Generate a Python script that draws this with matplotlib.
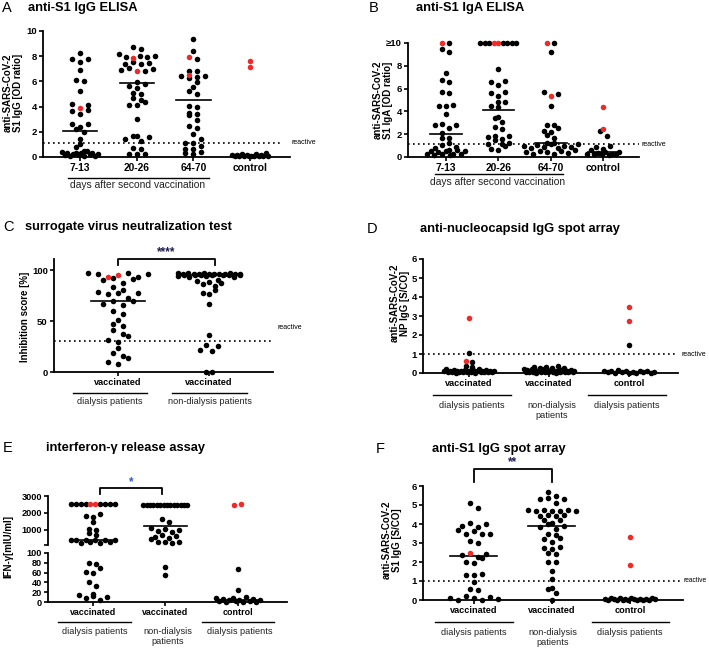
import numpy as np
import matplotlib
matplotlib.use('Agg')
import matplotlib.pyplot as plt
from matplotlib.lines import Line2D

plt.rcParams['font.family'] = ['Liberation Sans', 'DejaVu Sans']

# ---------------- data ----------------
A_cats = ["7-13", "20-26", "64-70", "control"]
A_g1 = [8.25, 7.8, 7.75, 7.55, 6.9, 6.15, 6.05, 5.25, 4.2, 4.1, 3.7, 3.65, 3.4, 2.65, 2.6, 2.4, 2.2,
        1.95, 1.45, 1.0, 0.8, 0.5, 0.45, 0.4, 0.35, 0.35, 0.3, 0.3, 0.25, 0.2, 0.2, 0.15, 0.15, 0.1, 0.1, 0.1]
A_g1_red = [3.9]
A_g2 = [8.7, 8.6, 8.2, 8.05, 8.0, 7.95, 7.9, 7.5, 7.45, 7.4, 7.35, 7.1, 6.95, 6.9, 6.85, 5.95, 5.8, 5.6,
        5.5, 5.1, 5.0, 4.7, 4.5, 4.4, 4.15, 4.1, 3.0, 1.7, 1.65, 1.6, 1.45, 1.3, 0.7, 0.6, 0.25, 0.2, 0.2]
A_g2_red = [7.85, 6.8]
A_g3 = [9.35, 8.45, 7.8, 6.85, 6.8, 6.45, 6.4, 6.35, 6.3, 5.95, 5.55, 5.2, 5.0, 4.05, 4.0, 3.5, 3.45,
        3.3, 2.95, 2.5, 2.3, 1.85, 1.45, 1.15, 1.1, 0.9, 0.65, 0.6, 0.4, 0.35, 0.2]
A_g3_red = [7.95, 6.5]
A_ctrl = [0.3, 0.2, 0.2, 0.15, 0.15, 0.12, 0.12, 0.1, 0.1, 0.1, 0.08, 0.08, 0.05, 0.05, 0.05, 0.1]
A_ctrl_red = [7.65, 7.15]
A_medians = [2.1, 5.85, 4.5, 0.1]

B_cats = ["7-13", "20-26", "64-70", "control"]
B_g1 = [10, 9.5, 9.2, 7.35, 6.75, 6.6, 5.7, 5.65, 4.6, 4.5, 4.45, 3.8, 2.9, 2.85, 2.8, 2.55, 2.1,
        1.7, 1.65, 1.25, 1.05, 0.85, 0.8, 0.65, 0.6, 0.55, 0.55, 0.5, 0.4, 0.3, 0.3, 0.25, 0.25, 0.2, 0.2]
B_g1_red = [10]
B_g2 = [10, 10, 10, 10, 10, 10, 10, 7.7, 6.65, 6.6, 6.35, 5.7, 5.65, 5.35, 4.85, 4.8, 4.45, 4.4,
        3.5, 3.45, 3.05, 2.65, 2.45, 1.85, 1.8, 1.75, 1.6, 1.5, 1.2, 1.15, 1.1, 0.95, 0.7, 0.65]
B_g2_red = [10, 10]
B_g3 = [10, 9.2, 5.7, 5.55, 4.5, 2.85, 2.8, 2.55, 2.3, 2.2, 1.95, 1.7, 1.25, 1.2, 1.15, 1.1, 1.05,
        1.0, 0.95, 0.9, 0.85, 0.8, 0.75, 0.6, 0.55, 0.5, 0.45, 0.4, 0.35, 0.3, 0.3]
B_g3_red = [10, 5.35]
B_ctrl = [2.25, 1.85, 0.95, 0.9, 0.7, 0.6, 0.45, 0.4, 0.35, 0.3, 0.3, 0.3, 0.25, 0.25, 0.2]
B_ctrl_red = [4.4, 2.5]
B_medians = [2.05, 4.1, 1.2, 0.4]
B_yticklabels = ["0", "2", "4", "6", "8", "\u226510"]

C_cats = ["vaccinated", "vaccinated"]
C_groups = ["dialysis patients", "non-dialysis patients"]
C_g1 = [97, 96, 97.5, 96, 93, 92, 91.5, 90, 87, 83, 80, 78, 77, 77, 76, 73, 70, 69.5, 66.5, 66,
        60, 57, 51, 47.5, 45, 41, 37.5, 35, 31, 29.5, 23.5, 18.5, 16, 13.5, 10, 8]
C_g1_red = [95.5, 93]
C_g2 = [97.5, 97, 97, 97, 96.5, 96.5, 96.5, 96.5, 96, 96, 96, 96, 96, 95.5, 95.5, 95.5, 95.5, 95,
        95, 95, 94.5, 94.5, 93.5, 93, 90, 89, 88, 87.5, 86, 84, 80, 77, 76, 67, 36, 26.5, 25.5,
        22, 21, 0, 0]
C_medians = [70, 95.5]

D_cats = ["vaccinated", "vaccinated", "control"]
D_groups = ["dialysis patients", "non-dialysis\npatients", "dialysis patients"]
D_g1 = [1.05, 0.6, 0.35, 0.3, 0.2, 0.2, 0.18, 0.15, 0.15, 0.15, 0.12, 0.12, 0.12, 0.1, 0.1, 0.1,
        0.08, 0.08, 0.08, 0.06, 0.06, 0.05, 0.05, 0.05, 0.04, 0.04, 0.03, 0.03, 0.03, 0.02, 0.02]
D_g1_red = [2.9, 0.65]
D_g2 = [0.35, 0.32, 0.3, 0.28, 0.25, 0.25, 0.22, 0.2, 0.2, 0.2, 0.18, 0.18, 0.15, 0.15, 0.15, 0.15,
        0.12, 0.12, 0.12, 0.1, 0.1, 0.1, 0.1, 0.1, 0.08, 0.08, 0.08, 0.06, 0.06, 0.06, 0.05, 0.05,
        0.05, 0.05, 0.04, 0.04, 0.03, 0.03, 0.02, 0.02]
D_ctrl = [1.45, 0.15, 0.12, 0.1, 0.1, 0.08, 0.08, 0.06, 0.05, 0.05, 0.04, 0.03, 0.02, 0.02, 0.0, 0.0]
D_ctrl_red = [3.5, 2.75]
D_medians = [0.08, 0.1, 0.05]

E_cats = ["vaccinated", "vaccinated", "control"]
E_groups = ["dialysis patients", "non-dialysis\npatients", "dialysis patients"]
E_g1 = [2500, 2500, 2500, 2500, 2500, 2500, 2500, 2500, 1950, 1800, 1750, 1450, 1050, 1000, 800,
        700, 420, 400, 400, 380, 380, 370, 250, 250, 230, 220, 80, 78, 70, 62, 60, 41, 33, 17, 14,
        12, 10, 8, 5]
E_g1_red = [2500, 2500]
E_g2 = [2450, 2450, 2450, 2450, 2450, 2450, 2450, 2450, 2450, 2450, 2450, 2450, 2450, 2450, 1650,
        1450, 1100, 1050, 1000, 950, 850, 700, 650, 550, 500, 480, 300, 280, 250, 200, 72, 55]
E_g2_red = []
E_ctrl = [68, 25, 10, 9, 8, 7, 6, 5, 5, 4, 3, 2, 2, 1, 0, 0]
E_ctrl_red = [2450, 2500]
E_medians = [370, 1230, 5]

F_cats = ["vaccinated", "vaccinated", "control"]
F_groups = ["dialysis patients", "non-dialysis\npatients", "dialysis patients"]
F_g1 = [5.1, 4.85, 4.05, 4.0, 3.9, 3.85, 3.7, 3.65, 3.5, 3.45, 3.45, 3.1, 3.0, 2.4, 2.35, 2.25, 2.2,
        2.0, 1.95, 1.35, 1.3, 1.3, 0.95, 0.6, 0.55, 0.2, 0.15, 0.1, 0.1, 0.05, 0.0, 0.0]
F_g1_red = [2.45]
F_g2 = [5.7, 5.45, 5.35, 5.3, 5.3, 5.1, 4.75, 4.75, 4.75, 4.7, 4.7, 4.7, 4.7, 4.45, 4.45, 4.4, 4.4,
        4.2, 4.2, 4.05, 4.0, 3.9, 3.85, 3.75, 3.45, 3.4, 3.25, 3.2, 3.05, 2.8, 2.75, 2.7, 2.45, 2.4,
        2.0, 2.0, 1.55, 1.1, 0.65, 0.6, 0.35, 0.0]
F_ctrl = [0.12, 0.1, 0.1, 0.08, 0.06, 0.05, 0.05, 0.04, 0.04, 0.03, 0.03, 0.02, 0.02, 0.02, 0.01,
          0.01, 0.0, 0.0]
F_ctrl_red = [3.3, 1.85]
F_medians = [2.3, 3.9, 0.03]

# ---------------- helpers ----------------
W, H = 709, 651
fig = plt.figure(figsize=(W / 100, H / 100), dpi=100)
RED = '#ee2b2b'
DOT_S = 16


def add_ax(x0, y0, x1, y1):
    return fig.add_axes([x0 / W, 1 - y1 / H, (x1 - x0) / W, (y1 - y0) / H])


def ftext(x, y, s, **kw):
    fig.text(x / W, 1 - y / H, s, **kw)


def hline_px(x0, x1, y, lw=1.0):
    fig.add_artist(Line2D([x0 / W, x1 / W], [1 - y / H, 1 - y / H], color='k', lw=lw))


def style_ax(ax, ysize=6.8, xsize=7.0):
    for s in ['top', 'right']:
        ax.spines[s].set_visible(False)
    for s in ['left', 'bottom']:
        ax.spines[s].set_linewidth(1.3)
    ax.tick_params(direction='out', length=3, width=1.2, pad=1.5)
    ax.tick_params(axis='y', labelsize=ysize)
    ax.tick_params(axis='x', labelsize=xsize)
    for lab in ax.get_xticklabels() + ax.get_yticklabels():
        lab.set_fontweight('bold')


def row_offsets(ypx, isred, sx, wmax, binh):
    """Scatter-column layout: points within binh pixels share a row."""
    order = np.argsort(ypx, kind='stable')
    offs = np.zeros(len(ypx))
    bins, cur, y0 = [], [order[0]], ypx[order[0]]
    for i in order[1:]:
        if ypx[i] - y0 < binh:
            cur.append(i)
        else:
            bins.append(cur)
            cur, y0 = [i], ypx[i]
    bins.append(cur)
    for b in bins:
        n = len(b)
        if n == 1:
            continue
        blk = [i for i in b if not isred[i]]
        # quasi-random left/right order so rows do not slant
        keys = ((np.arange(len(blk)) + 1) * 0.618034) % 1.0
        blk = [blk[j] for j in np.argsort(keys)]
        red = [i for i in b if isred[i]]
        h = len(blk) // 2
        b = blk[:h] + red + blk[h:]
        sp = min(sx, 2 * wmax / (n - 1))
        for k, i in enumerate(b):
            offs[i] = (k - (n - 1) / 2) * sp
    return offs


def draw_group(ax, xc, vals, reds, sx=8, wmax=18, binh=5):
    allv = np.array(list(reds) + list(vals), float)
    isred = np.array([True] * len(reds) + [False] * len(vals))
    pts = ax.transData.transform(np.column_stack([np.full(len(allv), xc), allv]))
    offs = row_offsets(pts[:, 1], isred, sx, wmax, binh)
    ppu = ax.transData.transform((1, 0))[0] - ax.transData.transform((0, 0))[0]
    xs = xc + offs / ppu
    ax.scatter(xs[~isred], allv[~isred], s=DOT_S, c='k', lw=0, zorder=3, clip_on=False)
    if isred.any():
        ax.scatter(xs[isred], allv[isred], s=DOT_S, c=RED, lw=0, zorder=4, clip_on=False)


def medians(ax, meds, half=0.3):
    for i, m in enumerate(meds):
        ax.plot([i - half, i + half], [m, m], color='k', lw=1.2, zorder=2, clip_on=False)


def reactive(ax, y, xmax=1.0):
    ax.axhline(y, xmin=0, xmax=xmax, color='k', lw=1.2, ls=(0, (1, 2)), zorder=1)


def bracket(ax, x0, x1, ytop, ybot, ystar, stars, color):
    ax.plot([x0, x0, x1, x1], [ybot, ytop, ytop, ybot], color='k', lw=1.3, clip_on=False)
    ax.text((x0 + x1) / 2, ystar, stars, ha='center', va='center', fontsize=8.5,
            fontweight='bold', color=color, clip_on=False)


LETTER_KW = dict(fontsize=10.5, va='center', ha='left')
TITLE_KW = dict(fontsize=9.3, fontweight='bold', va='center', ha='left')
YLAB_KW = dict(fontsize=7, fontweight='bold', rotation=90, ha='center', va='center',
               multialignment='center', linespacing=1.05)
GRP_KW = dict(fontsize=6.6, ha='center', va='top', color='#222222', linespacing=1.1)

# ---------------- Panel A ----------------
ax = add_ax(43, 31, 290, 157)
ax.set_xlim(-0.65, 3.7)
ax.set_ylim(0, 10)
ax.set_yticks([0, 2, 4, 6, 8, 10])
ax.set_xticks(range(4))
ax.set_xticklabels(A_cats)
style_ax(ax, 6.8, 7.4)
for i, (v, r) in enumerate([(A_g1, A_g1_red), (A_g2, A_g2_red), (A_g3, A_g3_red), (A_ctrl, A_ctrl_red)]):
    draw_group(ax, i, v, r, sx=8, wmax=18, binh=5)
medians(ax, A_medians)
reactive(ax, 1.1, 0.97)
ftext(2, 8, "A", **LETTER_KW)
ftext(28, 8, "anti-S1 IgG ELISA", **TITLE_KW)
ftext(13, 93, "anti-SARS-CoV-2\nS1 IgG [OD ratio]", **YLAB_KW)
ftext(291, 142, "reactive", fontsize=5, va='center')
hline_px(68, 209, 178)
ftext(138, 180, "days after second vaccination", fontsize=7.4, ha='center', va='top', color='#222222')

# ---------------- Panel B ----------------
ax = add_ax(408, 43, 639, 157)
ax.set_xlim(-0.72, 3.68)
ax.set_ylim(0, 10)
ax.set_yticks([0, 2, 4, 6, 8, 10])
ax.set_yticklabels(B_yticklabels)
ax.set_xticks(range(4))
ax.set_xticklabels(B_cats)
style_ax(ax, 6.8, 7.4)
for i, (v, r, w) in enumerate([(B_g1, B_g1_red, 19), (B_g2, B_g2_red, 18),
                               (B_g3, B_g3_red, 27), (B_ctrl, B_ctrl_red, 16)]):
    draw_group(ax, i, v, r, sx=7, wmax=w, binh=5)
medians(ax, B_medians)
reactive(ax, 1.1, 1.0)
ftext(369, 8, "B", **LETTER_KW)
ftext(416, 8, "anti-S1 IgA ELISA", **TITLE_KW)
ftext(383, 100, "anti-SARS-CoV-2\nS1 IgA [OD ratio]", **YLAB_KW)
ftext(641, 144, "reactive", fontsize=5, va='center')
hline_px(435, 563, 174)
ftext(498, 177, "days after second vaccination", fontsize=7.4, ha='center', va='top', color='#222222')

# ---------------- Panel C ----------------
ax = add_ax(54, 259, 273, 372)
ax.set_xlim(-0.70, 1.70)
ax.set_ylim(0, 110.8)
ax.set_yticks([0, 50, 100])
ax.set_xticks(range(2))
ax.set_xticklabels(C_cats)
style_ax(ax, 6.8, 6.6)
draw_group(ax, 0, C_g1, C_g1_red, sx=10, wmax=30, binh=6)
draw_group(ax, 1, C_g2, [], sx=6, wmax=31, binh=6)
medians(ax, C_medians)
reactive(ax, 30, 1.0)
bracket(ax, 0, 1.06, 110.8, 104.5, 117.5, "****", '#1c1c50')
ftext(3, 227, "C", **LETTER_KW)
ftext(25, 227, "surrogate virus neutralization test", **TITLE_KW)
ftext(25, 317, "Inhibition score [%]", **YLAB_KW)
ftext(278, 327, "reactive", fontsize=5, va='center')
hline_px(73, 147, 393)
hline_px(172, 247, 393)
for xg, g in zip([110, 210], C_groups):
    ftext(xg, 397, g, **GRP_KW)

# ---------------- Panel D ----------------
ax = add_ax(423, 259, 678, 373)
ax.set_xlim(-0.575, 2.61)
ax.set_ylim(0, 6)
ax.set_yticks(range(7))
ax.set_xticks(range(3))
ax.set_xticklabels(D_cats)
style_ax(ax, 6.8, 6.6)
for i, (v, r) in enumerate([(D_g1, D_g1_red), (D_g2, []), (D_ctrl, D_ctrl_red)]):
    draw_group(ax, i, v, r, sx=6, wmax=25, binh=4)
medians(ax, D_medians)
reactive(ax, 1.0, 1.0)
ftext(367, 229, "D", **LETTER_KW)
ftext(420, 229, "anti-nucleocapsid IgG spot array", **TITLE_KW)
ftext(400, 303, "anti-SARS-CoV-2\nNP IgG [S/CO]", **YLAB_KW)
ftext(681, 354, "reactive", fontsize=5, va='center')
hline_px(433, 511, 395)
hline_px(588, 666, 395)
for xg, g in zip([472, 552, 627], D_groups):
    ftext(xg, 401, g, **GRP_KW)

# ---------------- Panel E (broken axis) ----------------
axU = add_ax(48, 496, 287, 545)
axL = add_ax(48, 553, 287, 602)
for a in (axU, axL):
    a.set_xlim(-0.62, 2.68)
axU.set_ylim(100, 3000)
axL.set_ylim(0, 100)
axU.set_yticks([100, 1000, 2000, 3000])
axU.set_yticklabels(["", "1000", "2000", "3000"])
axU.set_xticks([])
axL.set_yticks([0, 20, 40, 60, 80, 100])
axL.set_xticks(range(3))
axL.set_xticklabels(E_cats)
style_ax(axU, 6.6, 6.4)
style_ax(axL, 6.6, 6.4)
axU.spines['bottom'].set_visible(False)
for i, (v, r) in enumerate([(E_g1, E_g1_red), (E_g2, E_g2_red), (E_ctrl, E_ctrl_red)]):
    allv = np.array(list(r) + list(v), float)
    isred = np.array([True] * len(r) + [False] * len(v))
    up = allv >= 100
    ypx = np.where(up,
                   axU.transData.transform(np.column_stack([np.full(len(allv), i), np.maximum(allv, 100)]))[:, 1],
                   axL.transData.transform(np.column_stack([np.full(len(allv), i), np.minimum(allv, 100)]))[:, 1])
    offs = row_offsets(ypx, isred, 7, 22, 5)
    ppu = axL.transData.transform((1, 0))[0] - axL.transData.transform((0, 0))[0]
    xs = i + offs / ppu
    for a, m in ((axU, up), (axL, ~up)):
        kb = m & ~isred
        kr = m & isred
        a.scatter(xs[kb], allv[kb], s=DOT_S, c='k', lw=0, zorder=3, clip_on=False)
        if kr.any():
            a.scatter(xs[kr], allv[kr], s=DOT_S, c=RED, lw=0, zorder=4, clip_on=False)
for j, m in enumerate(E_medians):
    a = axU if m >= 100 else axL
    a.plot([j - 0.3, j + 0.3], [m, m], color='k', lw=1.2, zorder=2)
bracket(axU, 0.1, 0.95, 3473, 3118, 3830, "*", '#2a5fc0')
ftext(3, 448, "E", **LETTER_KW)
ftext(46, 448, "interferon-\u03b3 release assay", **TITLE_KW)
ftext(8, 547, "IFN-\u03b3[mIU/ml]", **YLAB_KW)
hline_px(58, 131, 622)
hline_px(202, 274, 622)
for xg, g in zip([95, 168, 240], E_groups):
    ftext(xg, 627, g, **GRP_KW)

# ---------------- Panel F ----------------
ax = add_ax(423, 486, 683, 600)
ax.set_xlim(-0.65, 2.68)
ax.set_ylim(0, 6)
ax.set_yticks(range(7))
ax.set_xticks(range(3))
ax.set_xticklabels(F_cats)
style_ax(ax, 6.8, 6.6)
draw_group(ax, 0, F_g1, F_g1_red, sx=8, wmax=24, binh=5)
draw_group(ax, 1, F_g2, [], sx=8, wmax=24, binh=5)
draw_group(ax, 2, F_ctrl, F_ctrl_red, sx=8, wmax=25, binh=5)
medians(ax, F_medians)
reactive(ax, 1.0, 1.0)
bracket(ax, 0, 1, 6.9, 6.2, 7.28, "**", '#1c1c50')
ftext(376, 449, "F", **LETTER_KW)
ftext(432, 449, "anti-S1 IgG spot array", **TITLE_KW)
ftext(392, 540, "anti-SARS-CoV-2\nS1 IgG [S/CO]", **YLAB_KW)
ftext(684, 581, "reactive", fontsize=4.8, va='center')
hline_px(435, 513, 622)
hline_px(592, 669, 622)
for xg, g in zip([474, 553, 630], F_groups):
    ftext(xg, 628, g, **GRP_KW)

fig.savefig("out.png", dpi=100)
